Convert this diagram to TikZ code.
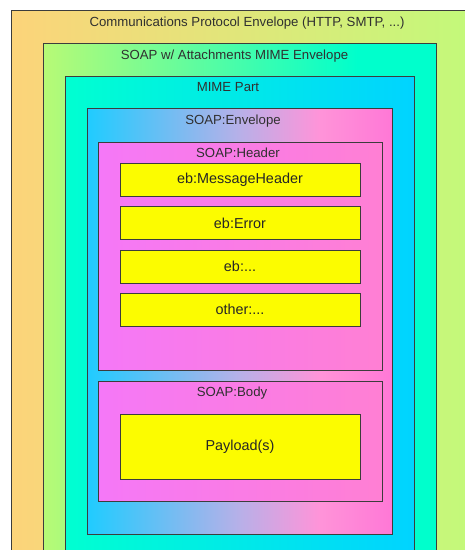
\documentclass[tikz,border=0pt]{standalone}
\usepackage{fontspec}
\setmainfont{Liberation Sans}
\definecolor{edge}{HTML}{3C3C3C}
\definecolor{txt}{HTML}{303030}
\definecolor{ylw}{HTML}{FCFC00}
\pgfdeclarehorizontalshading{outershade}{100bp}{rgb(0bp)=(0.99,0.83,0.48); rgb(25bp)=(0.99,0.83,0.48); rgb(75bp)=(0.76,0.98,0.48); rgb(100bp)=(0.76,0.98,0.48)}
\pgfdeclarehorizontalshading{attshade}{100bp}{rgb(0bp)=(0.72,0.98,0.46); rgb(25bp)=(0.72,0.98,0.46); rgb(65bp)=(0,1,0.80); rgb(75bp)=(0,1,0.80); rgb(100bp)=(0,1,0.80)}
\pgfdeclarehorizontalshading{mimeshade}{100bp}{rgb(0bp)=(0,1,0.82); rgb(25bp)=(0,1,0.82); rgb(75bp)=(0,0.83,1); rgb(100bp)=(0,0.83,1)}
\pgfdeclarehorizontalshading{envshade}{100bp}{rgb(0bp)=(0.12,0.8,1); rgb(25bp)=(0.12,0.8,1); rgb(50bp)=(0.72,0.69,0.91); rgb(63bp)=(1,0.58,0.85); rgb(75bp)=(1,0.47,0.84); rgb(100bp)=(1,0.47,0.84)}
\pgfdeclarehorizontalshading{hdrshade}{100bp}{rgb(0bp)=(0.96,0.47,0.97); rgb(25bp)=(0.96,0.47,0.97); rgb(75bp)=(1,0.5,0.83); rgb(100bp)=(1,0.5,0.83)}
\tikzset{
  boxshape/.style={rectangle, draw=edge, line width=1pt, inner sep=0pt, outer sep=0pt},
  lbl/.style={text=txt, font=\fontsize{13.2}{15}\selectfont, inner sep=0pt, anchor=base},
  ybox/.style={boxshape, fill=ylw, minimum width=240pt, text=black!85, font=\fontsize{14.4}{17}\selectfont},
}
\begin{document}
\begin{tikzpicture}[x=1pt,y=-1pt]
\useasboundingbox (0,0) rectangle (465,550);
\clip (0,0) rectangle (465,550);
\fill[white] (0,0) rectangle (465,550);
\node[boxshape, shading=outershade, minimum width=469pt, minimum height=560pt] (outer) at (245.5,290) {};
\node[boxshape, shading=attshade, minimum width=393pt, minimum height=527pt] (att) at (239.5,306.5) {};
\node[boxshape, shading=mimeshade, minimum width=349pt, minimum height=494pt] (mime) at (239.5,323) {};
\node[boxshape, shading=envshade, minimum width=305pt, minimum height=426pt] (env) at (239.5,321) {};
\node[boxshape, shading=hdrshade, minimum width=284pt, minimum height=228pt] (hdr) at (240,256) {};
\node[boxshape, shading=hdrshade, minimum width=284pt, minimum height=120pt] (body) at (240,441) {};
\node[lbl] (outerlbl) at (247,26.5) {Communications Protocol Envelope (HTTP, SMTP, ...)};
\node[lbl] (attlbl) at (234.5,59) {SOAP w/ Attachments MIME Envelope};
\node[lbl] (mimelbl) at (228,91.5) {MIME Part};
\node[lbl] (envlbl) at (233,124) {SOAP:Envelope};
\node[lbl] (hdrlbl) at (238,157) {SOAP:Header};
\node[lbl] (bodylbl) at (232,396.5) {SOAP:Body};
\node[ybox, minimum height=33pt] (mh) at (240,180) {eb:MessageHeader};
\node[ybox, minimum height=33pt] (err) at (240,223) {eb:Error};
\node[ybox, minimum height=33pt] (ebx) at (240,266.5) {eb:...};
\node[ybox, minimum height=33pt] (oth) at (240,309.5) {other:...};
\node[ybox, minimum height=65pt] (pay) at (240,446.5) {Payload(s)};
\end{tikzpicture}
\end{document}
